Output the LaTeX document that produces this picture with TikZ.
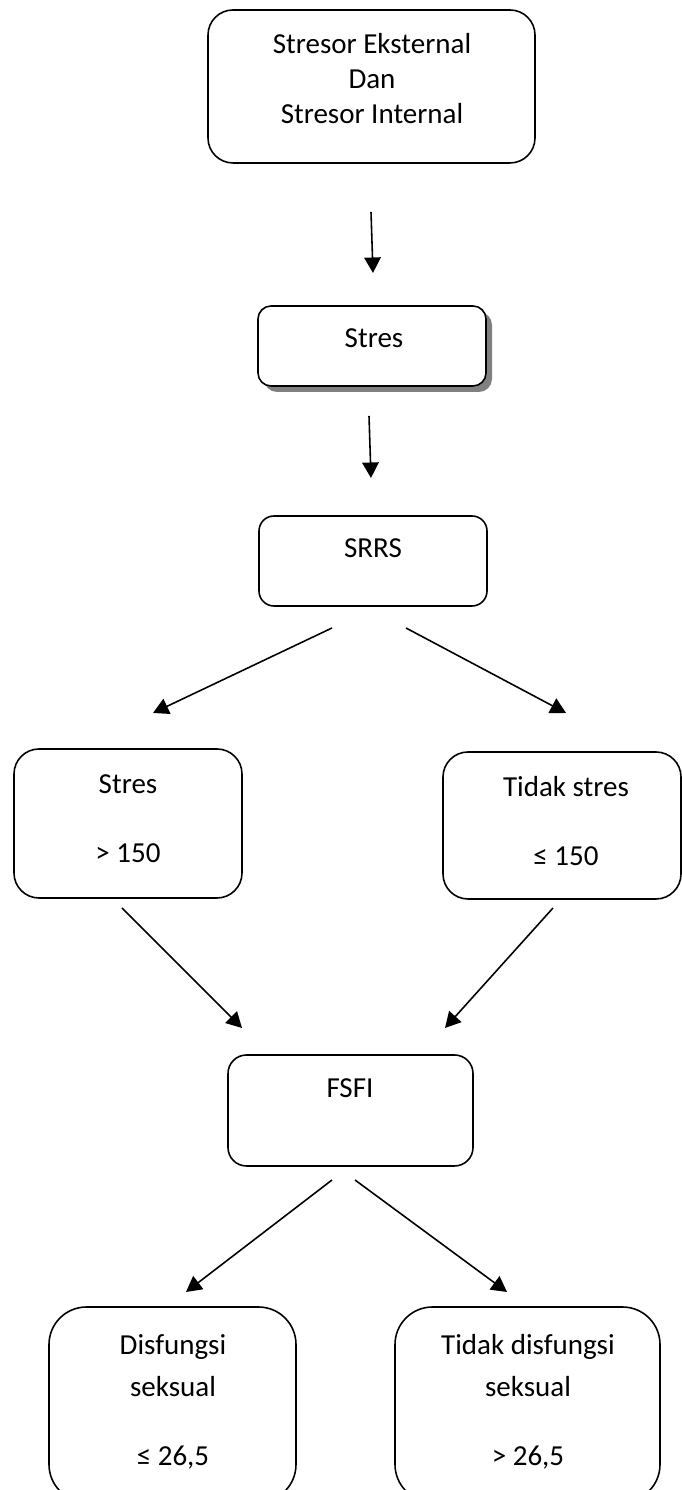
\documentclass[tikz,border=0pt]{standalone}
\usepackage{fontspec}
\setmainfont{Carlito}
\usetikzlibrary{arrows.meta,shadows}
\tikzset{
  flowbox/.style={draw=black,line width=0.9pt,fill=white,inner sep=0pt},
  boxtext/.style={anchor=base,inner sep=0pt,font=\fontsize{16.5}{20}\selectfont},
  flowarrow/.style={line width=0.9pt,-{Triangle[length=0.31cm,width=0.33cm]}}
}

\begin{document}
\begin{tikzpicture}[x=1cm,y=1cm]
\path[use as bounding box] (0,0) rectangle (13.62,29.80);
% boxes
\node[flowbox,minimum width=6.54cm,minimum height=3.06cm,rounded corners=0.50cm] (stresor) at (7.43,28.07) {};
\node[flowbox,minimum width=4.56cm,minimum height=1.60cm,rounded corners=0.26cm,
      drop shadow={shadow xshift=0.12cm,shadow yshift=-0.12cm,fill=gray,opacity=1}] (stres) at (7.44,22.88) {};
\node[flowbox,minimum width=4.56cm,minimum height=1.80cm,rounded corners=0.30cm] (srrs) at (7.46,18.58) {};
\node[flowbox,minimum width=4.56cm,minimum height=2.98cm,rounded corners=0.50cm] (stresya) at (2.56,13.33) {};
\node[flowbox,minimum width=4.76cm,minimum height=2.94cm,rounded corners=0.50cm] (strestidak) at (11.24,13.29) {};
\node[flowbox,minimum width=4.90cm,minimum height=2.22cm,rounded corners=0.37cm] (fsfi) at (7.01,7.59) {};
\node[flowbox,minimum width=4.94cm,minimum height=3.90cm,rounded corners=0.75cm] (disfya) at (3.45,1.71) {};
\node[flowbox,minimum width=5.30cm,minimum height=3.90cm,rounded corners=0.75cm] (disftidak) at (10.55,1.71) {};
% texts
\node[boxtext] (stresor-1) at (7.44,28.72) {Stresor Eksternal};
\node[boxtext] (stresor-2) at (7.44,28.02) {Dan};
\node[boxtext] (stresor-3) at (7.44,27.32) {Stresor Internal};
\node[boxtext] (stres-1) at (7.48,22.84) {Stres};
\node[boxtext] (srrs-1) at (7.46,18.64) {SRRS};
\node[boxtext] (stresya-1) at (2.56,13.92) {Stres};
\node[boxtext] (stresya-2) at (2.56,12.54) {> 150};
\node[boxtext] (strestidak-1) at (11.32,13.86) {Tidak stres};
\node[boxtext] (strestidak-2) at (11.32,12.48) {≤ 150};
\node[boxtext] (fsfi-1) at (7.00,7.84) {FSFI};
\node[boxtext] (disfya-1) at (3.46,2.70) {Disfungsi};
\node[boxtext] (disfya-2) at (3.46,1.86) {seksual};
\node[boxtext] (disfya-3) at (3.46,0.50) {≤ 26,5};
\node[boxtext] (disftidak-1) at (10.56,2.70) {Tidak disfungsi};
\node[boxtext] (disftidak-2) at (10.56,1.86) {seksual};
\node[boxtext] (disftidak-3) at (10.56,0.50) {> 26,5};
% arrow ends
\coordinate (stresor-out) at (7.42,25.56);
\coordinate (stres-in) at (7.46,24.34);
\coordinate (stres-out) at (7.38,21.48);
\coordinate (srrs-in) at (7.42,20.24);
\coordinate (srrs-outl) at (6.64,17.24);
\coordinate (srrs-outr) at (8.12,17.24);
\coordinate (stresya-in) at (3.06,15.54);
\coordinate (strestidak-in) at (11.32,15.54);
\coordinate (stresya-out) at (2.44,11.64);
\coordinate (strestidak-out) at (11.06,11.64);
\coordinate (fsfi-inl) at (4.84,9.24);
\coordinate (fsfi-inr) at (8.90,9.24);
\coordinate (fsfi-outl) at (6.64,6.20);
\coordinate (fsfi-outr) at (7.10,6.20);
\coordinate (disfya-in) at (3.72,3.96);
\coordinate (disftidak-in) at (10.14,3.96);
% arrows
\draw[flowarrow] (stresor-out) -- (stres-in);
\draw[flowarrow] (stres-out) -- (srrs-in);
\draw[flowarrow] (srrs-outl) -- (stresya-in);
\draw[flowarrow] (srrs-outr) -- (strestidak-in);
\draw[flowarrow] (stresya-out) -- (fsfi-inl);
\draw[flowarrow] (strestidak-out) -- (fsfi-inr);
\draw[flowarrow] (fsfi-outl) -- (disfya-in);
\draw[flowarrow] (fsfi-outr) -- (disftidak-in);
\end{tikzpicture}
\end{document}
